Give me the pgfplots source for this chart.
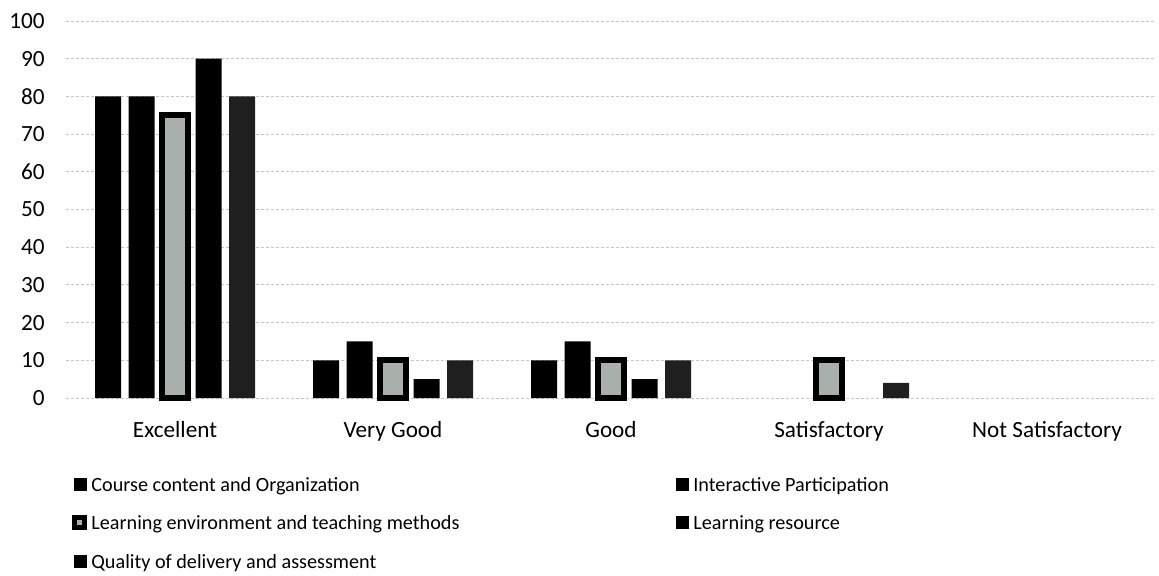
\documentclass[border=0pt]{standalone}
\usepackage{fontspec}
\setmainfont{Carlito}
\usepackage{pgfplots}
\pgfplotsset{compat=1.18}
\definecolor{envfill}{HTML}{A9B0AC}
\begin{document}
\begin{tikzpicture}
\useasboundingbox (-33pt,-88.5pt) rectangle (546.5pt,199pt);
\begin{axis}[
  at={(0,0)}, anchor=south west,
  scale only axis, width=545pt, height=188.5pt,
  xmin=-0.5, xmax=4.5, ymin=0, ymax=100,
  ybar=3.75pt, bar width=13pt,
  xtick={0,1,2,3,4},
  xticklabels={Excellent,Very Good,Good,Satisfactory,Not Satisfactory},
  ytick={0,10,...,100},
  axis line style={draw=none},
  major tick length=0pt,
  ymajorgrids,
  grid style={gray!45, dash pattern=on 1.5pt off 1pt, line width=0.5pt},
  font=\fontsize{11.6}{14}\selectfont,
  ticklabel style={font=\fontsize{11.6}{14}\selectfont},
  /pgf/number format/assume math mode=true,
  xticklabel style={anchor=base, yshift=-19.5pt},
  yticklabel style={anchor=east, inner sep=0pt, xshift=-10.5pt},
  clip=false,
  legend columns=2,
  legend style={at={(0,0)}, anchor=north west, xshift=3pt, yshift=-38pt,
    draw=none, fill=none, inner sep=0pt, column sep=2pt, row sep=9.2pt,
    nodes={inner sep=0pt}, font=\fontsize{10.1}{12.2}\selectfont},
  legend cell align=left,
  legend image code/.code={\fill[black] (0pt,-3.25pt) rectangle (6.5pt,3.25pt);},
]
\addplot[fill=black, draw=none] coordinates {(0,80) (1,10) (2,10)};
\addlegendentry{\makebox[290.5pt][l]{Course content and Organization\strut}}
\addplot[fill=black, draw=none] coordinates {(0,80) (1,15) (2,15)};
\addlegendentry{Interactive Participation\strut}
\addplot[fill=envfill, draw=black, line width=3pt,
  legend image code/.code={\draw[fill=envfill, draw=black, line width=2.5pt] (0.25pt,-2.5pt) rectangle (5.25pt,2.5pt);}]
  coordinates {(0,75) (1,10) (2,10) (3,10)};
\addlegendentry{\makebox[290.5pt][l]{Learning environment and teaching methods\strut}}
\addplot[fill=black, draw=none] coordinates {(0,90) (1,5) (2,5)};
\addlegendentry{Learning resource\strut}
\addplot[fill=black!88, draw=none] coordinates {(0,80) (1,10) (2,10) (3,4)};
\addlegendentry{\makebox[290.5pt][l]{Quality of delivery and assessment\strut}}
\end{axis}
\end{tikzpicture}
\end{document}
